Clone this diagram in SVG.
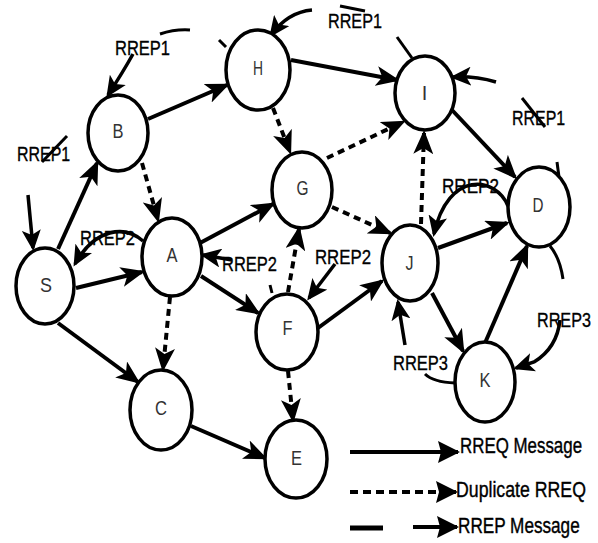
<svg xmlns="http://www.w3.org/2000/svg" width="598" height="543" viewBox="0 0 598 543">
<style>
.node ellipse{fill:#fff;stroke:#000;stroke-width:3.5}
.node text{font-family:"Liberation Sans",Arial,sans-serif;font-size:20px;fill:#333;text-anchor:middle}
.e{fill:none;stroke:#000;stroke-width:4;marker-end:url(#ah)}
.d{fill:none;stroke:#000;stroke-width:4;stroke-dasharray:7 5;marker-end:url(#ah)}
.r{fill:none;stroke:#000;stroke-width:3.5;marker-end:url(#ahs)}
.t{fill:none;stroke:#000;stroke-width:3}
.lbl{font-family:"Liberation Sans",Arial,sans-serif;font-size:21px;fill:#000;stroke:#000;stroke-width:0.35}
.leg{font-family:"Liberation Sans",Arial,sans-serif;font-size:22px;fill:#000;stroke:#000;stroke-width:0.4}
</style>
<defs>
<marker id="ah" viewBox="0 0 24 20" markerWidth="24" markerHeight="20" refX="21" refY="10" orient="auto" markerUnits="userSpaceOnUse"><path d="M0,0 L24,10 L0,20 L6,10 z" fill="#000"/></marker>
<marker id="ahs" viewBox="0 0 21 19" markerWidth="21" markerHeight="19" refX="18" refY="9.5" orient="auto" markerUnits="userSpaceOnUse"><path d="M0,0 L21,9.5 L0,19 L5,9.5 z" fill="#000"/></marker>
<marker id="ahl" viewBox="0 0 22 22" markerWidth="22" markerHeight="22" refX="20" refY="11" orient="auto" markerUnits="userSpaceOnUse"><path d="M0,0 L22,11 L0,22 L3,11 z" fill="#000"/></marker>
</defs>

<g id="connectors">
<!-- RREQ solid -->
<path class="e" d="M58,249 L97,163"/>
<path class="e" d="M76,288 L142,272"/>
<path class="e" d="M58,323 L138,382"/>
<path class="e" d="M148,119 L227,85"/>
<path class="e" d="M291,60 L397,80"/>
<path class="e" d="M200,243 L273,204"/>
<path class="e" d="M201,276 L258,313"/>
<path class="e" d="M452,110 L515,177"/>
<path class="e" d="M438,248 L507,223"/>
<path class="e" d="M318,328 L382,281"/>
<path class="e" d="M432,293 L463,351"/>
<path class="e" d="M485,343 L527,246"/>
<path class="e" d="M191,426 L265,458"/>
<!-- duplicate dashed -->
<path class="d" d="M142,163 L158,220"/>
<path class="d" d="M273,108 L290,152"/>
<path class="d" d="M327,158 L403,122"/>
<path class="d" d="M332,207 L390,233"/>
<path class="d" d="M421,224 L424,133"/>
<path class="d" d="M288,292 L299,229"/>
<path class="d" d="M170,297 L163,369"/>
<path class="d" d="M288,371 L293,420"/>
<!-- RREP arrows -->
<path class="r" d="M133,54 Q123,72 108,95"/>
<path class="t" d="M160,34 Q175,29 190,30"/>
<path class="r" d="M28,195 L33,248"/>
<path class="r" d="M143,241 C125,225 95,228 75,264"/>
<path class="r" d="M232,260 L203,255"/>
<path class="r" d="M335,264 L309,298"/>
<path class="r" d="M508,206 C496,176 448,170 434,234"/>
<path class="r" d="M312,10 Q288,12 271,35"/>
<path class="t" d="M219,40 L226,47"/>
<path class="t" d="M397,37 L412,58"/>
<path class="r" d="M496,82 Q475,76 453,77"/>
<path class="t" d="M557,162 L559,177"/>
<path class="t" d="M550,246 Q560,258 563,279"/>
<path class="r" d="M560,320 Q557,348 534,362 L516,368"/>
<path class="t" d="M425,374 Q433,382 455,383"/>
<path class="r" d="M405,345 L398,302"/>
<path class="t" d="M270,285 L272,293"/>
<path class="t" d="M67,136 L42,162"/>
<path class="t" d="M522,98 L545,127"/>
<path class="t" d="M340,6 L365,11"/>
</g>

<g id="node-S" class="node"><ellipse cx="45" cy="286" rx="29" ry="38"/><text x="46" y="292" textLength="12" lengthAdjust="spacingAndGlyphs">S</text></g>
<g id="node-B" class="node"><ellipse cx="118" cy="133" rx="30" ry="38"/><text x="118" y="138" textLength="11" lengthAdjust="spacingAndGlyphs">B</text></g>
<g id="node-H" class="node"><ellipse cx="258" cy="70" rx="32" ry="40"/><text x="258" y="75" textLength="10" lengthAdjust="spacingAndGlyphs">H</text></g>
<g id="node-A" class="node"><ellipse cx="172" cy="257" rx="30" ry="39"/><text x="172" y="262" textLength="11" lengthAdjust="spacingAndGlyphs">A</text></g>
<g id="node-G" class="node"><ellipse cx="302" cy="190" rx="30" ry="38"/><text x="302.5" y="195" textLength="12" lengthAdjust="spacingAndGlyphs">G</text></g>
<g id="node-I" class="node"><ellipse cx="425" cy="93" rx="30" ry="37"/><text x="424.5" y="100">I</text></g>
<g id="node-D" class="node"><ellipse cx="539" cy="207" rx="31" ry="40"/><text x="538" y="212" textLength="11" lengthAdjust="spacingAndGlyphs">D</text></g>
<g id="node-J" class="node"><ellipse cx="410" cy="263" rx="28" ry="38"/><text x="409.5" y="270" textLength="8" lengthAdjust="spacingAndGlyphs">J</text></g>
<g id="node-F" class="node"><ellipse cx="287" cy="332" rx="31" ry="38"/><text x="287.5" y="335" textLength="10" lengthAdjust="spacingAndGlyphs">F</text></g>
<g id="node-K" class="node"><ellipse cx="485" cy="382" rx="30" ry="40"/><text x="485" y="387" textLength="11" lengthAdjust="spacingAndGlyphs">K</text></g>
<g id="node-C" class="node"><ellipse cx="161" cy="410" rx="31" ry="40"/><text x="161" y="415" textLength="12" lengthAdjust="spacingAndGlyphs">C</text></g>
<g id="node-E" class="node"><ellipse cx="296" cy="459" rx="31" ry="39"/><text x="296.5" y="465" textLength="11" lengthAdjust="spacingAndGlyphs">E</text></g>

<g id="labels">
<text class="lbl" transform="translate(115,55) scale(0.786,1)">RREP1</text>
<text class="lbl" transform="translate(17,161) scale(0.76,1)">RREP1</text>
<text class="lbl" transform="translate(328,28) scale(0.77,1)">RREP1</text>
<text class="lbl" transform="translate(512,125) scale(0.76,1)">RREP1</text>
<text class="lbl" transform="translate(80,245) scale(0.786,1)">RREP2</text>
<text class="lbl" transform="translate(222,271) scale(0.786,1)">RREP2</text>
<text class="lbl" transform="translate(315,264) scale(0.8,1)">RREP2</text>
<text class="lbl" transform="translate(442,193) scale(0.814,1)">RREP2</text>
<text class="lbl" transform="translate(537,327) scale(0.77,1)">RREP3</text>
<text class="lbl" transform="translate(393,370) scale(0.786,1)">RREP3</text>
</g>

<g id="legend">
<path d="M350,452 L458,452" fill="none" stroke="#000" stroke-width="4" marker-end="url(#ahl)"/>
<text class="leg" transform="translate(460,453) scale(0.768,1)">RREQ Message</text>
<path d="M350,492 L456,492" fill="none" stroke="#000" stroke-width="4" stroke-dasharray="8 5" marker-end="url(#ahl)"/>
<text class="leg" transform="translate(456,497) scale(0.805,1)">Duplicate RREQ</text>
<path d="M350,528 L383,528" fill="none" stroke="#000" stroke-width="5"/>
<path d="M413,527 L457,527" fill="none" stroke="#000" stroke-width="4" marker-end="url(#ahl)"/>
<text class="leg" transform="translate(458,533) scale(0.78,1)">RREP Message</text>
</g>
</svg>
